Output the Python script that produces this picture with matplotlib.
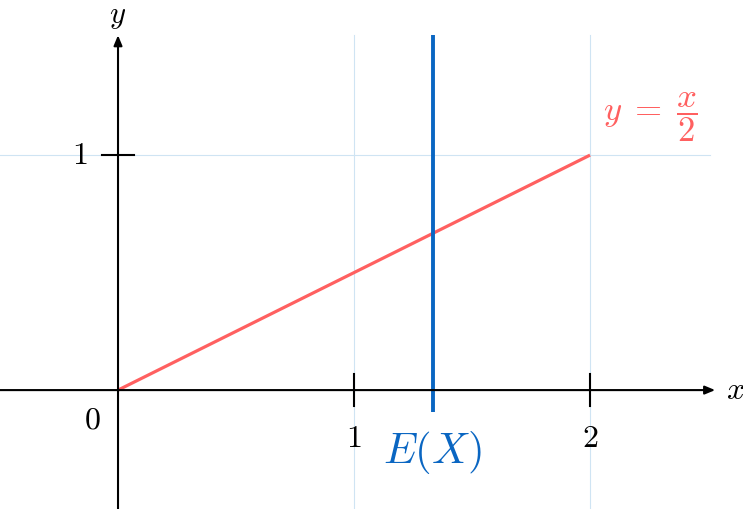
import matplotlib.pyplot as plt
import numpy as np

plt.rcParams['mathtext.fontset'] = 'cm'
plt.rcParams['font.family'] = 'serif'
plt.rcParams['font.serif'] = ['DejaVu Serif']

line_x = [0, 2]
line_y = [0, 1]
mean_x = 4 / 3
x_ticks = [1, 2]
y_ticks = [1]
red = '#ff6060'
blue = '#0a66c2'
grid_c = '#cfe4f3'

fig = plt.figure(figsize=(7.43, 5.09), dpi=100)
ax = fig.add_axes([0, 0, 1, 1])
ax.set_xlim(-0.5, 2.648)
ax.set_ylim(-0.506, 1.66)
ax.axis('off')

# grid
for xv in x_ticks:
    ax.plot([xv, xv], [-0.52, 1.51], color=grid_c, lw=0.8, zorder=0)
for yv in y_ticks:
    ax.plot([-0.52, 2.51], [yv, yv], color=grid_c, lw=0.8, zorder=0)

# axes with arrows
arrow = dict(arrowstyle='-|>,head_length=0.6,head_width=0.25', lw=1.5, color='black',
             shrinkA=0, shrinkB=0)
ax.annotate('', xy=(2.53, 0), xytext=(-0.52, 0), arrowprops=arrow)
ax.annotate('', xy=(0, 1.51), xytext=(0, -0.52), arrowprops=arrow)

# ticks
t = 0.068
for xv in x_ticks:
    ax.plot([xv, xv], [-t, t], color='black', lw=1.5)
    ax.text(xv, -0.14, f'${xv}$', ha='center', va='top', fontsize=23)
for yv in y_ticks:
    ax.plot([-t, t], [yv, yv], color='black', lw=1.5)
    ax.text(-0.13, yv, f'${yv}$', ha='right', va='center', fontsize=23)
ax.text(-0.075, -0.06, '$0$', ha='right', va='top', fontsize=23)

ax.text(2.575, 0, '$x$', ha='left', va='center', fontsize=23)
ax.text(0, 1.595, '$y$', ha='center', va='center', fontsize=22)

# data
ax.plot(line_x, line_y, color=red, lw=2.3, solid_capstyle='butt')
ax.plot([mean_x, mean_x], [-0.094, 1.51], color=blue, lw=2.8, solid_capstyle='butt')
ax.text(mean_x, -0.265, '$E(X)$', color=blue, ha='center', va='center', fontsize=31)
ax.text(2.254, 1.16, r'$y\;=\;\dfrac{x}{2}$', color=red, ha='center', va='center', fontsize=25)

fig.savefig('out.png', dpi=100)
